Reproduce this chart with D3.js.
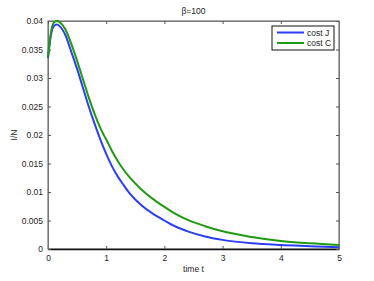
<!DOCTYPE html>
<html>
<head>
<meta charset="utf-8">
<script src="https://d3js.org/d3.v7.min.js"></script>
<style>
  body { margin: 0; background: #fff; }
  text { font-family: "Liberation Sans", Arial, sans-serif; }
</style>
</head>
<body>
<div id="chart"></div>
<script>
    // values
    var times = [0, 0.05, 0.1, 0.15, 0.2, 0.3, 0.4, 0.5, 0.6, 0.7, 0.8, 0.9, 1.0, 1.1, 1.2, 1.3, 1.4, 1.6, 1.8, 2.0, 2.2, 2.4, 2.7, 3.0, 3.5, 4.0, 4.5, 5.0];
    var costJ = [0.0335, 0.0375, 0.0391, 0.0394, 0.0391, 0.0375, 0.0346, 0.0316, 0.0283, 0.0250, 0.0220, 0.0192, 0.0167, 0.0145, 0.0127, 0.0112, 0.0098, 0.0077, 0.0062, 0.0050, 0.0039, 0.0031, 0.0022, 0.0016, 0.0010, 0.0007, 0.0005, 0.0003];
    var costC = [0.0337, 0.0380, 0.0397, 0.0400, 0.0398, 0.0385, 0.0360, 0.0330, 0.0298, 0.0266, 0.0237, 0.0212, 0.0192, 0.0172, 0.0154, 0.0139, 0.0126, 0.0105, 0.0088, 0.0074, 0.0061, 0.0051, 0.0040, 0.0031, 0.0021, 0.0014, 0.0010, 0.0007];
    var seriesNames = ["cost J", "cost C"];
    var seriesColors = ["#2b3ef5", "#1f9a12"];
    var xTicks = [0, 1, 2, 3, 4, 5];
    var yTicks = [0, 0.005, 0.01, 0.015, 0.02, 0.025, 0.03, 0.035, 0.04];

    var W = 374, H = 281;
    var margin = { top: 21, right: 35, bottom: 32, left: 48 };
    var width = W - margin.left - margin.right,
        height = H - margin.top - margin.bottom;

    var x = d3.scaleLinear().domain([0, 5]).range([0, width]);
    var y = d3.scaleLinear().domain([0, 0.04]).range([height, 0]);

    var svg = d3.select("#chart").append("svg")
        .attr("width", W).attr("height", H);

    var main = svg.append("g")
        .attr("transform", "translate(" + margin.left + "," + margin.top + ")");

    // box
    main.append("rect")
        .attr("width", width).attr("height", height)
        .attr("fill", "none").attr("stroke", "#777").attr("stroke-width", 1.2);

    var fmt = function (d) { return String(+d.toFixed(3)); };

    // axes, ticks pointing inside
    var gx = main.append("g")
        .attr("transform", "translate(0," + height + ")")
        .call(d3.axisBottom(x).tickValues(xTicks).tickSizeInner(-3).tickSizeOuter(0).tickPadding(6).tickFormat(fmt));
    var gy = main.append("g")
        .call(d3.axisLeft(y).tickValues(yTicks).tickSizeInner(-3).tickSizeOuter(0).tickPadding(5).tickFormat(fmt));
    main.append("g")
        .call(d3.axisTop(x).tickValues(xTicks).tickSizeInner(-3).tickSizeOuter(0).tickFormat(""));
    main.append("g")
        .attr("transform", "translate(" + width + ",0)")
        .call(d3.axisRight(y).tickValues(yTicks).tickSizeInner(-3).tickSizeOuter(0).tickFormat(""));

    svg.selectAll(".domain").attr("stroke", "#777");
    svg.selectAll(".tick line").attr("stroke", "#555");
    gx.select(".domain").attr("stroke", "#111").attr("stroke-width", 1.3);
    svg.selectAll(".tick text").attr("font-size", 8.5).attr("fill", "#222")
        .style("font-family", "Liberation Sans, Arial, sans-serif");

    // curves
    var data = [costJ, costC];
    var line = d3.line()
        .x(function (d, i) { return x(times[i]); })
        .y(function (d) { return y(d); })
        .curve(d3.curveMonotoneX);

    main.selectAll(".series")
        .data(data)
        .enter().append("path")
        .attr("class", "series")
        .attr("d", line)
        .attr("fill", "none")
        .attr("stroke", function (d, i) { return seriesColors[i]; })
        .attr("stroke-width", 2);

    // title + labels
    svg.append("text")
        .attr("x", margin.left + width / 2).attr("y", 14)
        .attr("text-anchor", "middle").attr("font-size", 8.5).attr("fill", "#222")
        .text("β=100");
    svg.append("text")
        .attr("x", margin.left + width / 2).attr("y", 272)
        .attr("text-anchor", "middle").attr("font-size", 8.5).attr("fill", "#222")
        .text("time t");
    svg.append("text")
        .attr("transform", "translate(17," + (margin.top + height / 2) + ") rotate(-90)")
        .attr("text-anchor", "middle").attr("font-size", 8.5).attr("fill", "#222")
        .text("I/N");

    // legend
    var legend = svg.append("g").attr("transform", "translate(272,26)");
    legend.append("rect")
        .attr("width", 62).attr("height", 24)
        .attr("fill", "#fff").attr("stroke", "#111").attr("stroke-width", 1);
    seriesNames.forEach(function (name, i) {
        legend.append("line")
            .attr("x1", 5).attr("x2", 32)
            .attr("y1", 6.5 + i * 10.5).attr("y2", 6.5 + i * 10.5)
            .attr("stroke", seriesColors[i]).attr("stroke-width", 2);
        legend.append("text")
            .attr("x", 35).attr("y", 9.5 + i * 10.5)
            .attr("font-size", 8.5).attr("fill", "#222")
            .text(name);
    });
</script>
</body>
</html>
